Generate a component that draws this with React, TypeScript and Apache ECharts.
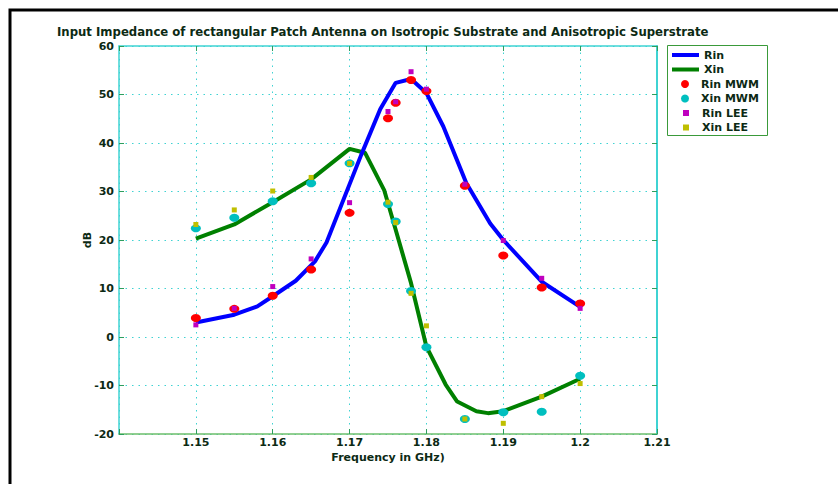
import React, { useEffect, useRef } from "react";
import * as echarts from "echarts";

// ---- data ----
const freqs = [1.15, 1.155, 1.16, 1.165, 1.17, 1.175, 1.176, 1.178, 1.18, 1.185, 1.19, 1.195, 1.2];
const rinMWM = [3.9, 5.8, 8.5, 13.9, 25.6, 45.1, 48.3, 53.0, 50.7, 31.2, 16.8, 10.2, 6.9];
const xinMWM = [22.4, 24.6, 28.0, 31.7, 35.8, 27.4, 23.8, 9.5, -2.1, -16.9, -15.5, -15.4, -8.0];
const rinLEE = [2.5, 5.9, 10.4, 16.1, 27.7, 46.5, 48.5, 54.7, 51.1, 31.5, 19.9, 12.1, 5.9];
const xinLEE = [23.2, 26.2, 30.1, 32.9, 35.8, 27.8, 23.6, 9.0, 2.3, -16.9, -17.8, -12.3, -9.6];

const rinLineFreq = [1.15, 1.155, 1.158, 1.16, 1.163, 1.1655, 1.167, 1.1715, 1.174, 1.176, 1.178, 1.18, 1.1822, 1.1852, 1.1883, 1.19, 1.195, 1.2];
const rinLineVals = [3.0, 4.6, 6.3, 8.4, 11.6, 15.6, 19.5, 37.5, 47.0, 52.4, 53.2, 50.3, 43.4, 31.7, 23.4, 20.0, 11.4, 6.2];
const xinLineFreq = [1.15, 1.155, 1.16, 1.165, 1.17, 1.172, 1.1745, 1.176, 1.178, 1.18, 1.1825, 1.184, 1.1865, 1.188, 1.19, 1.195, 1.2];
const xinLineVals = [20.3, 23.2, 27.8, 32.5, 38.8, 38.0, 30.3, 22.1, 11.1, -2.0, -9.8, -13.3, -15.3, -15.7, -15.3, -12.3, -8.6];

const xTickLabels = ["1.15", "1.16", "1.17", "1.18", "1.19", "1.2", "1.21"];
const legendNames = ["Rin", "Xin", "Rin MWM", "Xin MWM", "Rin LEE", "Xin LEE"];

const TITLE = "Input Impedance of rectangular Patch Antenna on Isotropic Substrate and Anisotropic Superstrate";

const pairs = (xs: number[], ys: number[]) => xs.map((x, i) => [x, ys[i]]);

const FONT = "'DejaVu Sans', 'Liberation Sans', Arial, sans-serif";
const TEXT_COLOR = "#0c2a14";
const CYAN = "#3fd3d3";
const TICK = "#2e9e5e";

export default function App() {
  const ref = useRef<HTMLDivElement>(null);
  useEffect(() => {
    document.body.style.margin = "0";
    const chart = echarts.init(ref.current!, null, { renderer: "svg" });
    const axisLabelStyle = { color: TEXT_COLOR, fontFamily: FONT, fontWeight: "bold" as const, fontSize: 11 };
    const legendStyle = (i: number, left: number, w: number, h: number, icon: string, pad: number) => ({
      data: [legendNames[i]],
      left,
      top: 55 + i * 14.5 - 7,
      orient: "vertical",
      padding: 0,
      itemWidth: w,
      itemHeight: h,
      icon,
      selectedMode: false,
      textStyle: { ...axisLabelStyle, fontSize: 11, lineHeight: 14, padding: [0, 0, 0, pad] },
    });
    chart.setOption({
      animation: false,
      backgroundColor: "#ffffff",
      title: {
        text: TITLE,
        left: 57,
        top: 26,
        padding: 0,
        textStyle: { ...axisLabelStyle, fontSize: 11.7, color: TEXT_COLOR },
      },
      grid: { left: 119, top: 46, right: 181, bottom: 50, containLabel: false },
      legend: [
        legendStyle(0, 672, 27, 4, "rect", 0),
        legendStyle(1, 672, 27, 4, "rect", 0),
        legendStyle(2, 681, 10, 8, "circle", 6),
        legendStyle(3, 681, 10, 8, "circle", 6),
        legendStyle(4, 683, 6, 6, "rect", 8),
        legendStyle(5, 683, 6, 6, "rect", 8),
      ],
      xAxis: [
        {
          type: "value",
          min: 1.14,
          max: 1.21,
          interval: 0.01,
          name: "Frequency in GHz)",
          nameLocation: "middle",
          nameGap: 18,
          nameMoveOverlap: false,
          nameTextStyle: { ...axisLabelStyle },
          axisLine: { show: true, onZero: false, lineStyle: { color: "#6cbf6c", width: 1.5 } },
          axisTick: { show: true, inside: true, length: 5, lineStyle: { color: TICK } },
          axisLabel: {
            ...axisLabelStyle,
            margin: 3,
            formatter: (v: number) => {
              const s = String(Math.round(v * 100) / 100);
              return xTickLabels.includes(s) ? s : "";
            },
          },
          splitLine: { show: true, lineStyle: { color: CYAN, type: [1.5, 5], width: 1 } },
        },
        {
          type: "value",
          position: "top",
          min: 1.14,
          max: 1.21,
          interval: 0.01,
          axisLine: { show: true, onZero: false, lineStyle: { color: CYAN, width: 1.5 } },
          axisTick: { show: true, inside: true, length: 5, lineStyle: { color: TICK } },
          axisLabel: { show: false },
          splitLine: { show: false },
        },
      ],
      yAxis: [
        {
          type: "value",
          min: -20,
          max: 60,
          interval: 10,
          name: "dB",
          nameLocation: "middle",
          nameGap: 26,
          nameMoveOverlap: false,
          nameTextStyle: { ...axisLabelStyle },
          axisLine: { show: true, onZero: false, lineStyle: { color: CYAN, width: 1.5 } },
          axisTick: { show: true, inside: true, length: 5, lineStyle: { color: TICK } },
          axisLabel: { ...axisLabelStyle, margin: 5 },
          splitLine: { show: true, lineStyle: { color: CYAN, type: [1.5, 5], width: 1 } },
        },
        {
          type: "value",
          position: "right",
          min: -20,
          max: 60,
          interval: 10,
          axisLine: { show: true, onZero: false, lineStyle: { color: CYAN, width: 2 } },
          axisTick: { show: true, inside: true, length: 5, lineStyle: { color: TICK } },
          axisLabel: { show: false },
          splitLine: { show: false },
        },
      ],
      series: [
        {
          name: "Rin",
          type: "line",
          data: pairs(rinLineFreq, rinLineVals),
          symbol: "none",
          lineStyle: { color: "#0000ff", width: 4 },
          itemStyle: { color: "#0000ff" },
          z: 3,
        },
        {
          name: "Xin",
          type: "line",
          data: pairs(xinLineFreq, xinLineVals),
          symbol: "none",
          lineStyle: { color: "#008000", width: 4 },
          itemStyle: { color: "#008000" },
          z: 2,
        },
        {
          name: "Rin MWM",
          type: "scatter",
          data: pairs(freqs, rinMWM),
          symbol: "circle",
          symbolSize: [10, 8],
          itemStyle: { color: "#ff0000", opacity: 1 },
          z: 4,
        },
        {
          name: "Xin MWM",
          type: "scatter",
          data: pairs(freqs, xinMWM),
          symbol: "circle",
          symbolSize: [10, 8],
          itemStyle: { color: "#00bfbf", opacity: 1 },
          z: 4,
        },
        {
          name: "Rin LEE",
          type: "scatter",
          data: pairs(freqs, rinLEE),
          symbol: "rect",
          symbolSize: 5,
          itemStyle: { color: "#bf00bf", opacity: 1 },
          z: 5,
        },
        {
          name: "Xin LEE",
          type: "scatter",
          data: pairs(freqs, xinLEE),
          symbol: "rect",
          symbolSize: 5,
          itemStyle: { color: "#bfbf00", opacity: 1 },
          z: 5,
        },
      ],
      graphic: [
        {
          type: "rect",
          shape: { x: 10, y: 10, width: 1000, height: 800 },
          style: { fill: "none", stroke: "#000000", lineWidth: 3 },
          silent: true,
        },
        {
          type: "rect",
          shape: { x: 667.5, y: 45.5, width: 100, height: 90 },
          style: { fill: "none", stroke: "#3a9a3a", lineWidth: 1 },
          silent: true,
        },
      ],
    });
    return () => chart.dispose();
  }, []);
  return <div ref={ref} style={{ width: 838, height: 484 }} />;
}
